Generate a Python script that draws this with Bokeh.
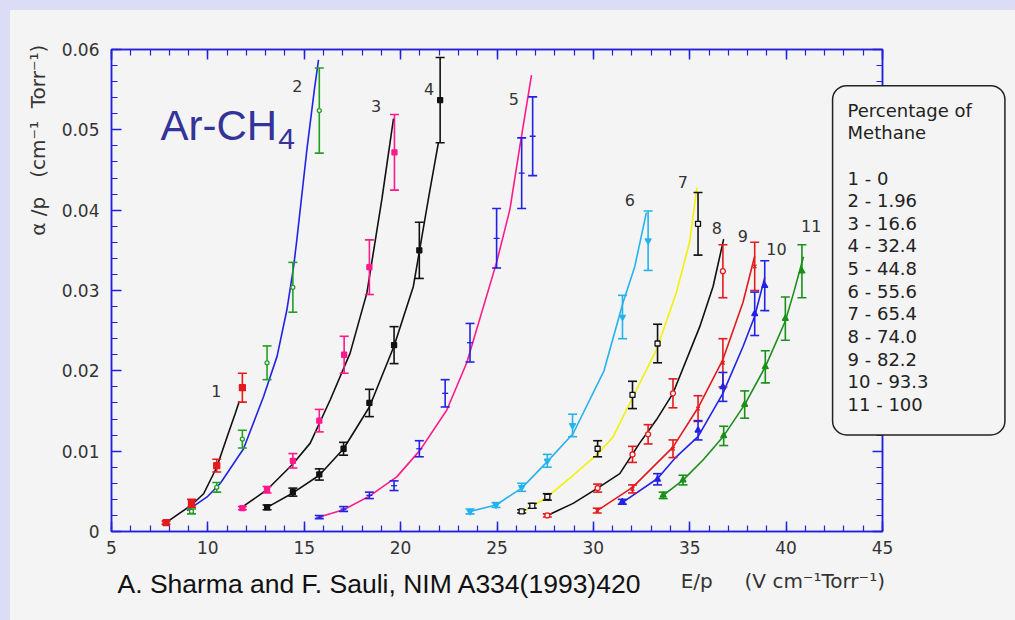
from bokeh.plotting import figure
from bokeh.models import LinearAxis, FixedTicker, CustomJSTickFormatter, Label, Range1d
from bokeh.embed import file_html
from bokeh.resources import INLINE
from bokeh.core.properties import value

# ---------------- data ----------------
x_ticks = [5, 10, 15, 20, 25, 30, 35, 40, 45]
y_ticks = [0, 0.01, 0.02, 0.03, 0.04, 0.05, 0.06]

series_names = ["1", "2", "3", "4", "5", "6", "7", "8", "9", "10", "11"]
methane_pct = ["0", "1.96", "16.6", "32.4", "44.8", "55.6", "65.4", "74.0", "82.2", "93.3", "100"]

# measured points (x = E/p, y = alpha/p, e = error half-height)
p1_x = [7.83, 9.15, 10.46, 11.79]
p1_y = [0.0011, 0.0035, 0.0082, 0.0179]
p1_e = [0.0002, 0.0005, 0.0008, 0.0018]
p2_x = [9.15, 10.46, 11.79, 13.07, 14.41, 15.78]
p2_y = [0.0025, 0.0055, 0.0115, 0.0210, 0.0304, 0.0524]
p2_e = [0.0003, 0.0006, 0.0011, 0.0021, 0.0031, 0.0053]
p3_x = [11.79, 13.07, 14.41, 15.78, 17.07, 18.38, 19.68]
p3_y = [0.0029, 0.0052, 0.0088, 0.0138, 0.0220, 0.0329, 0.0472]
p3_e = [0.0002, 0.0004, 0.0009, 0.0014, 0.0023, 0.0034, 0.0047]
p4_x = [13.07, 14.41, 15.78, 17.04, 18.38, 19.66, 20.97, 22.05]
p4_y = [0.0030, 0.0049, 0.0071, 0.0103, 0.0160, 0.0232, 0.0350, 0.0537]
p4_e = [0.0003, 0.0005, 0.0007, 0.0008, 0.0017, 0.0023, 0.0035, 0.0053]
p5_x = [15.78, 17.04, 18.38, 19.66, 20.97, 22.31, 23.6, 24.98, 26.28, 26.85]
p5_y = [0.0018, 0.0028, 0.0045, 0.0057, 0.0103, 0.0172, 0.0235, 0.0365, 0.0446, 0.0492]
p5_e = [0.0002, 0.0003, 0.0004, 0.0006, 0.0010, 0.0017, 0.0024, 0.0037, 0.0044, 0.0049]
p6_x = [23.6, 24.95, 26.28, 27.61, 28.92, 31.51, 32.84]
p6_y = [0.0025, 0.0033, 0.0055, 0.0088, 0.0132, 0.0267, 0.0362]
p6_e = [0.0003, 0.0003, 0.0005, 0.0008, 0.0014, 0.0027, 0.0037]
p7_x = [26.28, 26.83, 27.61, 30.22, 32.03, 33.33, 35.43]
p7_y = [0.0025, 0.0032, 0.0043, 0.0103, 0.0170, 0.0234, 0.0383]
p7_e = [0.0002, 0.0003, 0.0004, 0.0010, 0.0017, 0.0024, 0.0039]
p8_x = [27.61, 30.22, 32.03, 32.84, 34.13, 36.72]
p8_y = [0.0020, 0.0054, 0.0096, 0.0121, 0.0172, 0.0324]
p8_e = [0.0002, 0.0005, 0.0010, 0.0012, 0.0018, 0.0033]
p9_x = [30.2, 32.03, 34.13, 35.43, 36.72, 38.37]
p9_y = [0.0026, 0.0053, 0.0103, 0.0153, 0.0210, 0.0330]
p9_e = [0.0003, 0.0005, 0.0011, 0.0016, 0.0030, 0.0030]
p10_x = [31.5, 33.33, 35.43, 36.72, 38.37, 38.89]
p10_y = [0.0037, 0.0065, 0.0126, 0.0180, 0.0271, 0.0306]
p10_e = [0.0003, 0.0007, 0.0012, 0.0018, 0.0027, 0.0031]
p11_x = [33.62, 34.65, 36.76, 37.85, 38.92, 39.96, 40.82]
p11_y = [0.0045, 0.0064, 0.0119, 0.0158, 0.0205, 0.0265, 0.0324]
p11_e = [0.0004, 0.0006, 0.0012, 0.0017, 0.0020, 0.0027, 0.0033]

# fitted curves
f1_x = [7.83, 9.15, 9.78, 10.46, 11.0, 11.42, 11.63]
f1_y = [0.0011, 0.0033, 0.0047, 0.0080, 0.0118, 0.0147, 0.0162]
f2_x = [8.92, 9.96, 10.65, 11.85, 12.89, 13.59, 14.1, 14.45, 14.62, 15.14, 15.53, 15.74]
f2_y = [0.0026, 0.0043, 0.0060, 0.0103, 0.0168, 0.0218, 0.0276, 0.0330, 0.0364, 0.0476, 0.0551, 0.0587]
f3_x = [11.7, 13.07, 14.41, 15.31, 16.35, 17.38, 18.25, 19.03, 19.63]
f3_y = [0.0029, 0.0052, 0.0084, 0.0110, 0.0164, 0.0222, 0.0297, 0.0414, 0.0514]
f4_x = [13.07, 14.41, 15.78, 17.04, 18.38, 19.66, 20.66, 21.44, 21.96]
f4_y = [0.0030, 0.0048, 0.0070, 0.0103, 0.0155, 0.0231, 0.0305, 0.0414, 0.0484]
f5_x = [15.78, 17.04, 18.38, 19.8, 21.0, 22.39, 23.43, 24.98, 25.67, 26.19, 26.79]
f5_y = [0.0018, 0.0027, 0.0044, 0.0068, 0.0101, 0.0151, 0.0210, 0.0335, 0.0401, 0.0480, 0.0568]
f6_x = [23.6, 24.95, 26.28, 27.61, 28.95, 30.55, 31.54, 32.15, 32.75]
f6_y = [0.0025, 0.0033, 0.0054, 0.0087, 0.0122, 0.0200, 0.0285, 0.0330, 0.0397]
f7_x = [26.45, 27.61, 28.95, 30.16, 31.03, 31.98, 33.27, 34.3, 34.99, 35.37]
f7_y = [0.0026, 0.0043, 0.0070, 0.0095, 0.0118, 0.0164, 0.0226, 0.0297, 0.0360, 0.0428]
f8_x = [27.61, 28.95, 30.22, 31.37, 32.4, 33.27, 34.13, 35.52, 36.21, 36.76]
f8_y = [0.0020, 0.0035, 0.0054, 0.0072, 0.0110, 0.0139, 0.0172, 0.0255, 0.0305, 0.0364]
f9_x = [30.2, 32.03, 34.13, 35.43, 36.72, 37.76, 38.37]
f9_y = [0.0026, 0.0055, 0.0105, 0.0154, 0.0214, 0.0285, 0.0343]
f10_x = [31.5, 33.33, 34.3, 35.43, 36.72, 37.76, 38.37, 38.89]
f10_y = [0.0036, 0.0066, 0.0093, 0.0118, 0.0172, 0.0230, 0.0268, 0.0316]
f11_x = [33.62, 34.65, 35.69, 36.76, 37.85, 38.92, 39.96, 40.4, 40.9]
f11_y = [0.0045, 0.0064, 0.0089, 0.0119, 0.0158, 0.0205, 0.0262, 0.0298, 0.0342]

# curve-number label anchors
lab_x = [10.44, 14.64, 18.73, 21.48, 25.88, 31.89, 34.64, 36.4, 37.75, 39.5, 41.3]
lab_y = [0.0175, 0.0554, 0.0530, 0.0551, 0.0538, 0.0413, 0.0435, 0.0378, 0.0368, 0.0352, 0.0380]

# ---------------- styling ----------------
RED = "#e41a1c"
GREEN = "#22a022"
DKGREEN = "#1a8f1a"
MAGENTA = "#ff1a8c"
BLUE = "#2222e6"
CYAN = "#26b2ee"
YELLOW = "#f2f200"
BLACK = "#111111"
AXBLUE = "#2020dd"
BG = "#f4f4f4"
TXT = "#333333"
FONT = "DejaVu Sans"
NB = "\u00a0"

pts = [(p1_x, p1_y, p1_e), (p2_x, p2_y, p2_e), (p3_x, p3_y, p3_e), (p4_x, p4_y, p4_e),
       (p5_x, p5_y, p5_e), (p6_x, p6_y, p6_e), (p7_x, p7_y, p7_e), (p8_x, p8_y, p8_e),
       (p9_x, p9_y, p9_e), (p10_x, p10_y, p10_e), (p11_x, p11_y, p11_e)]
fits = [(f1_x, f1_y), (f2_x, f2_y), (f3_x, f3_y), (f4_x, f4_y), (f5_x, f5_y), (f6_x, f6_y),
        (f7_x, f7_y), (f8_x, f8_y), (f9_x, f9_y), (f10_x, f10_y), (f11_x, f11_y)]
pt_colors = [RED, GREEN, MAGENTA, BLACK, BLUE, CYAN, BLACK, RED, RED, BLUE, DKGREEN]
fit_colors = [BLACK, BLUE, BLACK, BLACK, MAGENTA, CYAN, YELLOW, BLACK, RED, BLUE, DKGREEN]
# (marker, size, filled)
mstyle = [("square", 6, True), ("circle", 4, False), ("square", 5, True), ("square", 5, True),
          ("dash", 6, False), ("inverted_triangle", 6, True), ("square", 5, False),
          ("circle", 5, False), ("x", 5, False), ("triangle", 6, True), ("triangle", 6, True)]

p = figure(frame_width=771, frame_height=482, output_backend="svg", toolbar_location=None,
           x_range=Range1d(5, 45), y_range=Range1d(0, 0.06),
           min_border_left=111, min_border_right=133, min_border_top=49, min_border_bottom=89,
           background_fill_color=BG, border_fill_color=None,
           outline_line_color=AXBLUE, outline_line_width=1.5)
p.xgrid.visible = False
p.ygrid.visible = False

bottom_ax = p.below[0]
left_ax = p.left[0]
top_ax = LinearAxis()
right_ax = LinearAxis()
p.add_layout(top_ax, "above")
p.add_layout(right_ax, "right")

x_minor = list(range(5, 46))
y_minor = [i * 0.002 for i in range(31)]

for ax in (bottom_ax, top_ax):
    ax.ticker = FixedTicker(ticks=x_ticks, minor_ticks=x_minor)
for ax in (left_ax, right_ax):
    ax.ticker = FixedTicker(ticks=y_ticks, minor_ticks=y_minor)
left_ax.formatter = CustomJSTickFormatter(
    code="return Math.abs(tick) < 1e-9 ? '0' : tick.toFixed(2);")
for ax in (top_ax, right_ax):
    ax.formatter = CustomJSTickFormatter(code="return '';")

for ax in (bottom_ax, top_ax, left_ax, right_ax):
    ax.axis_line_color = AXBLUE
    ax.axis_line_width = 1.5
    ax.major_tick_line_color = AXBLUE
    ax.minor_tick_line_color = AXBLUE
    ax.major_tick_line_width = 1.5
    ax.minor_tick_line_width = 1.2
    ax.major_tick_in = 10
    ax.major_tick_out = 0
    ax.minor_tick_in = 6
    ax.minor_tick_out = 0
    ax.major_label_text_font = FONT
    ax.major_label_text_font_size = "17px"
    ax.major_label_text_color = TXT
bottom_ax.major_label_standoff = 9
left_ax.major_label_standoff = 12

# fitted curves
for (fx, fy), c in zip(fits, fit_colors):
    p.line(fx, fy, line_color=c, line_width=1.6)

# error bars and markers
for (px, py, pe), c, (mk, sz, filled) in zip(pts, pt_colors, mstyle):
    lo = [y - e for y, e in zip(py, pe)]
    hi = [y + e for y, e in zip(py, pe)]
    p.segment(x0=px, y0=lo, x1=px, y1=hi, line_color=c, line_width=1.6)
    p.scatter(px, lo, marker="dash", size=9, line_color=c, line_width=1.6)
    p.scatter(px, hi, marker="dash", size=9, line_color=c, line_width=1.6)
    p.scatter(px, py, marker=mk, size=sz, line_color=c, line_width=1.3,
              fill_color=c if filled else BG)

# curve number labels
p.text(x=lab_x, y=lab_y, text=series_names, text_font=value(FONT), text_font_size="16px",
       text_color=TXT, text_align="center", text_baseline="middle")

# Ar-CH4 title inside plot
p.add_layout(Label(x=7.54, y=0.0506, text="Ar-CH", text_font="Liberation Sans",
                   text_font_size="42px", text_color="#333399", text_baseline="alphabetic"))
p.add_layout(Label(x=13.65, y=0.0488, text="4", text_font="Liberation Sans",
                   text_font_size="30px", text_color="#333399", text_baseline="alphabetic"))

# axis titles and citation (side panels, so they are not clipped to the frame)
y_title = "\u03b1" + NB + "/p" + NB * 3 + "(cm\u207b\u00b9" + NB * 2 + "Torr\u207b\u00b9)"
x_title = "E/p" + NB * 5 + "(V" + NB + "cm\u207b\u00b9Torr\u207b\u00b9)"
p.add_layout(Label(x=1.2, y=0.0487, text=y_title, angle=90,
                   angle_units="deg", text_align="center", text_baseline="middle",
                   text_font=FONT, text_font_size="20px", text_color=TXT), "left")
p.add_layout(Label(x=34.53, y=-0.0061, text=x_title,
                   text_baseline="alphabetic", text_font=FONT, text_font_size="20px",
                   text_color=TXT), "below")
p.add_layout(Label(x=5.31, y=-0.0065, text="A. Sharma and F. Sauli, NIM A334(1993)420",
                   text_baseline="alphabetic", text_font="Liberation Sans",
                   text_font_size="26.5px", text_color=BLACK), "below")

# legend box
legend_text = "Percentage of\nMethane\n\n" + "\n".join(
    f"{n} - {v}" for n, v in zip(series_names, methane_pct))
p.add_layout(Label(x=42.41, y=0.0555, text=legend_text, text_align="left", text_baseline="top",
                   text_font=FONT, text_font_size="18px", text_color="#222222",
                   text_line_height=1.078,
                   padding=dict(left=15, right=33, top=14, bottom=20), border_radius=14,
                   background_fill_color=BG, border_line_color="#222222",
                   border_line_width=1.5), "right")

html = file_html(p, INLINE)
html = html.replace(
    "<head>",
    "<head><style>html,body{overflow:hidden;}"
    "body{background:linear-gradient(to bottom,#dcdcf6 0,#dcdcf6 10px,transparent 10px),"
    "linear-gradient(to right,#dcdcf6 0,#dcdcf6 10px,#f4f4f4 10px);}</style>", 1)
open("out.html", "w").write(html)
